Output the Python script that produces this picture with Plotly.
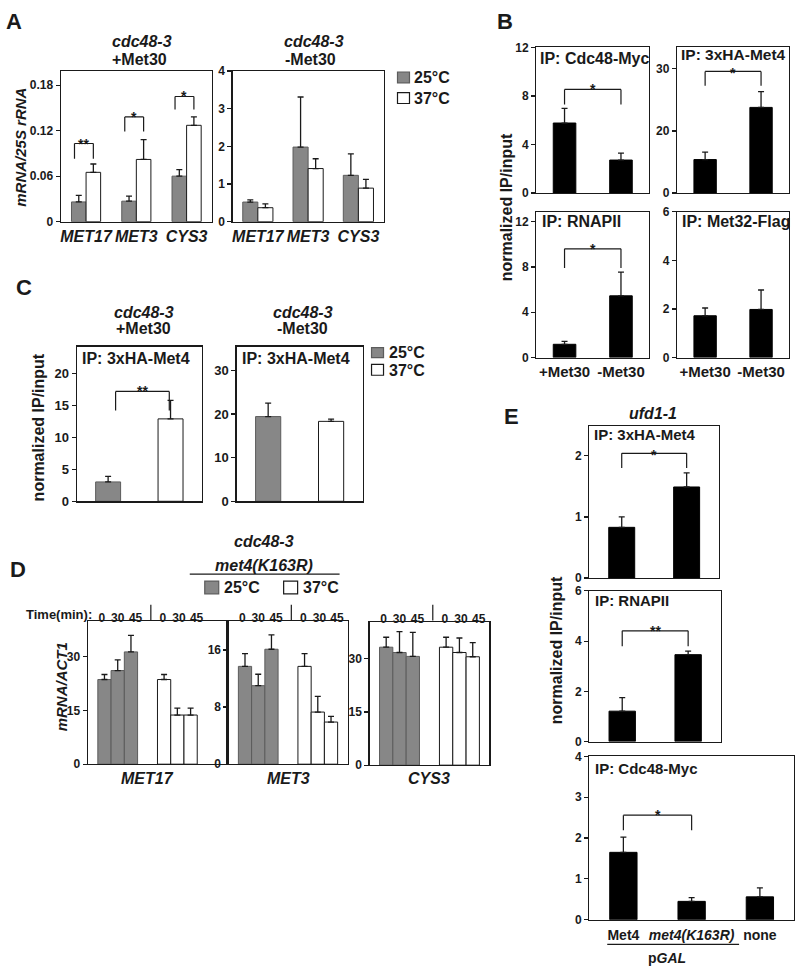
import plotly.graph_objects as go

W, H = 800, 976
FONT = "Liberation Sans, Arial, Helvetica, sans-serif"
GRAY = "#878787"
GRAY_EDGE = "#5c5c5c"
INK = "#1a1a1a"

# ---------------- data ----------------
# Panel A
A_genes = ["MET17", "MET3", "CYS3"]
A_plus_25 = [0.026, 0.027, 0.060]
A_plus_25_err = [0.0086, 0.0067, 0.0086]
A_plus_37 = [0.065, 0.082, 0.127]
A_plus_37_err = [0.011, 0.026, 0.011]
A_plus_yticks = [0, 0.06, 0.12, 0.18]
A_plus_sig = ["**", "*", "*"]
A_plus_sig_top = [0.103, 0.138, 0.165]
A_plus_sig_leg = [0.083, 0.119, 0.148]
A_minus_25 = [0.52, 1.98, 1.23]
A_minus_25_err = [0.06, 1.33, 0.57]
A_minus_37 = [0.37, 1.41, 0.89]
A_minus_37_err = [0.10, 0.26, 0.23]
A_minus_yticks = [0, 1, 2, 3, 4]
temps = ["25°C", "37°C"]

# Panel B
B_groups = ["+Met30", "-Met30"]
B_cdc48 = [5.77, 2.72]
B_cdc48_err = [1.21, 0.57]
B_cdc48_yticks = [0, 4, 8, 12]
B_met4 = [8.1, 20.7]
B_met4_err = [1.8, 3.8]
B_met4_tickvals = [0, 15, 30]
B_met4_ticktext = ["0", "20", "30"]
B_rnapii = [1.17, 5.45]
B_rnapii_err = [0.26, 2.1]
B_rnapii_yticks = [0, 4, 8, 12]
B_met32 = [1.72, 1.98]
B_met32_err = [0.32, 0.80]
B_met32_yticks = [0, 2, 4, 6]
B_sig_cdc48 = ("*", 8.54, 7.30)
B_sig_met4 = ("*", 29.4, 25.9)
B_sig_rnapii = ("*", 9.6, 7.9)

# Panel C
C_plus = [3.03, 12.9]
C_plus_err = [0.87, 2.9]
C_plus_yticks = [0, 5, 10, 15, 20]
C_minus = [19.4, 18.3]
C_minus_err = [3.1, 0.5]
C_minus_yticks = [0, 10, 20, 30]
C_sig_plus = ("**", 17.2, 14.2)

# Panel D
D_times = ["0", "30", "45"]
D_genes = ["MET17", "MET3", "CYS3"]
D_25 = [[23.6, 26.1, 31.3], [13.7, 11.0, 16.1], [33.3, 31.8, 30.7]]
D_25_err = [[1.4, 3.0, 4.6], [1.8, 1.6, 2.0], [2.8, 5.9, 6.8]]
D_37 = [[23.6, 13.7, 13.7], [13.7, 7.3, 5.9], [33.3, 31.8, 30.6]]
D_37_err = [[1.4, 1.9, 1.9], [1.8, 2.2, 0.8], [2.8, 4.1, 4.0]]
D_yticks = [[0, 15, 30], [0, 8, 16], [0, 15, 30]]
D_ymax = [39.8, 20.0, 40.3]

# Panel E
E_groups = ["Met4", "met4(K163R)", "none"]
E_met4 = [0.83, 1.49]
E_met4_err = [0.17, 0.23]
E_met4_yticks = [0, 1, 2]
E_rnapii = [1.21, 3.46]
E_rnapii_err = [0.54, 0.14]
E_rnapii_yticks = [0, 2, 4, 6]
E_cdc48 = [1.65, 0.45, 0.56]
E_cdc48_err = [0.37, 0.09, 0.22]
E_cdc48_yticks = [0, 1, 2, 3, 4]
E_sig_met4 = ("*", 2.04, 1.80)
E_sig_rnapii = ("**", 4.41, 3.80)
E_sig_cdc48 = ("*", 2.56, 2.19)

# ---------------- figure helpers ----------------
layout = dict(
    width=W, height=H, margin=dict(l=0, r=0, t=0, b=0),
    paper_bgcolor="white", plot_bgcolor="white", showlegend=False,
    font=dict(family=FONT, color=INK), barmode="overlay",
)
traces, shapes, annos = [], [], []


def names(n):
    s = "" if n == 1 else str(n)
    return "xaxis" + s, "yaxis" + s, "x" + s, "y" + s


def add_axes(n, box, xr, yr, yt, ytt=None, xt=None, xtt=None, xfont=None,
             xside="bottom", yfont=12, xstand=0):
    l, r, t, b = box
    xa, ya, xref, yref = names(n)
    xd = dict(domain=[l / W, r / W], range=xr, anchor=yref, showline=True,
              mirror=True, linecolor=INK, linewidth=1.3, showgrid=False,
              zeroline=False, ticks="", side=xside, fixedrange=True,
              tickangle=0)
    if xt is not None:
        xd.update(tickmode="array", tickvals=xt, ticktext=xtt,
                  tickfont=xfont, ticklabelstandoff=xstand)
    else:
        xd.update(showticklabels=False)
    yd = dict(domain=[1 - b / H, 1 - t / H], range=yr, anchor=xref,
              showline=True, mirror=True, linecolor=INK, linewidth=1.3,
              showgrid=False, zeroline=False, ticks="outside", ticklen=4,
              tickwidth=1.2, tickcolor=INK, tickmode="array", tickvals=yt,
              tickfont=dict(size=yfont, family=FONT, color=INK, weight="bold"),
              fixedrange=True)
    if ytt is not None:
        yd["ticktext"] = ytt
    layout[xa] = xd
    layout[ya] = yd
    return xref, yref


def add_bars(xref, yref, x, y, err, color, edge, width, offset, name):
    traces.append(go.Bar(
        x=x, y=y, name=name, xaxis=xref, yaxis=yref, width=width, offset=offset,
        marker=dict(color=color, line=dict(color=edge, width=1)),
        error_y=dict(type="data", array=err, arrayminus=[0] * len(err),
                     symmetric=False, color=INK, thickness=1.3, width=3),
        hoverinfo="skip",
    ))


def add_bracket(xref, yref, x0, x1, sig, size=14, lift=10):
    text, ytop, yleg = sig
    for xa, xb, ya, yb in [(x0, x0, yleg, ytop), (x0, x1, ytop, ytop), (x1, x1, ytop, yleg)]:
        shapes.append(dict(type="line", xref=xref, yref=yref, x0=xa, x1=xb,
                           y0=ya, y1=yb, line=dict(color=INK, width=1.2)))
    annos.append(dict(xref=xref, yref=yref, x=(x0 + x1) / 2, y=ytop,
                      text="<b>" + text + "</b>", showarrow=False,
                      yanchor="top", yshift=lift,
                      font=dict(size=size, family=FONT, color=INK)))


def text_px(x, y, s, size=16, xanchor="center", yanchor="middle", angle=0):
    annos.append(dict(xref="paper", yref="paper", x=x / W, y=1 - y / H, text=s,
                      showarrow=False, xanchor=xanchor, yanchor=yanchor,
                      textangle=angle,
                      font=dict(size=size, family=FONT, color=INK)))


def rect_px(x0, y0, x1, y1, fill, edge):
    shapes.append(dict(type="rect", xref="paper", yref="paper",
                       x0=x0 / W, x1=x1 / W, y0=1 - y1 / H, y1=1 - y0 / H,
                       fillcolor=fill, line=dict(color=edge, width=1.2)))


def line_px(x0, y0, x1, y1, w=1.2):
    shapes.append(dict(type="line", xref="paper", yref="paper",
                       x0=x0 / W, x1=x1 / W, y0=1 - y0 / H, y1=1 - y1 / H,
                       line=dict(color=INK, width=w)))


def b(s):
    return "<b>" + s + "</b>"


def bi(s):
    return "<b><i>" + s + "</i></b>"


# ---------------- Panel A ----------------
genefont = dict(size=16, family=FONT, color=INK, weight="bold", style="italic")
idx3 = list(range(len(A_genes)))
xr3 = [-0.5, len(A_genes) - 0.5]
xa, ya = add_axes(1, (60, 211, 65, 218), xr3, [0, 0.1986], A_plus_yticks,
                  xt=idx3, xtt=A_genes, xfont=genefont)
add_bars(xa, ya, idx3, A_plus_25, A_plus_25_err, GRAY, GRAY_EDGE, 0.29, -0.29, temps[0])
add_bars(xa, ya, idx3, A_plus_37, A_plus_37_err, "white", INK, 0.29, 0.0, temps[1])
for i, s in enumerate(A_plus_sig):
    add_bracket(xa, ya, i - 0.23, i + 0.145, (s, A_plus_sig_top[i], A_plus_sig_leg[i]))

xa, ya = add_axes(2, (232, 383, 65, 218), xr3, [0, 4], A_minus_yticks,
                  xt=idx3, xtt=A_genes, xfont=genefont)
add_bars(xa, ya, idx3, A_minus_25, A_minus_25_err, GRAY, GRAY_EDGE, 0.3, -0.3, temps[0])
add_bars(xa, ya, idx3, A_minus_37, A_minus_37_err, "white", INK, 0.3, 0.0, temps[1])

text_px(13, 15, b("A"), size=22)
text_px(141, 35, bi("cdc48-3"))
text_px(139, 53, b("+Met30"))
text_px(313, 35, bi("cdc48-3"))
text_px(310, 53, b("-Met30"))
text_px(20, 142, bi("mRNA/25S rRNA"), size=15, angle=-90)
rect_px(397, 66, 409, 77, GRAY, GRAY_EDGE)
rect_px(397, 87, 409, 98, "white", INK)
text_px(412, 72, b(temps[0]), xanchor="left")
text_px(412, 93, b(temps[1]), xanchor="left")

# ---------------- Panel B ----------------
idx2 = list(range(len(B_groups)))
xr2 = [-0.5, 1.5]
bfont = dict(size=15, family=FONT, color=INK, weight="bold")
xa, ya = add_axes(3, (536, 649, 41, 189), xr2, [0, 12], B_cdc48_yticks)
add_bars(xa, ya, idx2, B_cdc48, B_cdc48_err, "black", "black", 0.4, -0.2, "Cdc48-Myc")
add_bracket(xa, ya, 0, 1, B_sig_cdc48)
xa, ya = add_axes(4, (677, 789, 41, 189), xr2, [0, 35.2], B_met4_tickvals, ytt=B_met4_ticktext)
add_bars(xa, ya, idx2, B_met4, B_met4_err, "black", "black", 0.4, -0.2, "3xHA-Met4")
add_bracket(xa, ya, 0, 1, B_sig_met4, lift=8)
xa, ya = add_axes(5, (536, 649, 208, 356), xr2, [0, 12.87], B_rnapii_yticks,
                  xt=idx2, xtt=B_groups, xfont=bfont)
add_bars(xa, ya, idx2, B_rnapii, B_rnapii_err, "black", "black", 0.4, -0.2, "RNAPII")
add_bracket(xa, ya, 0, 1, B_sig_rnapii)
xa, ya = add_axes(6, (677, 789, 208, 356), xr2, [0, 6], B_met32_yticks,
                  xt=idx2, xtt=B_groups, xfont=bfont)
add_bars(xa, ya, idx2, B_met32, B_met32_err, "black", "black", 0.4, -0.2, "Met32-Flag")

text_px(505, 15, b("B"), size=22)
text_px(538, 52, b("IP: Cdc48-Myc"), xanchor="left")
text_px(679, 48, b("IP: 3xHA-Met4"), size=15.5, xanchor="left")
text_px(540, 218, b("IP: RNAPII"), xanchor="left")
text_px(680, 218, b("IP: Met32-Flag"), xanchor="left")
text_px(507, 203, b("normalized IP/input"), angle=-90)

# ---------------- Panel C ----------------
xa, ya = add_axes(7, (76, 201, 345, 502), xr2, [0, 24.2], C_plus_yticks, yfont=13)
add_bars(xa, ya, [0], C_plus[:1], C_plus_err[:1], GRAY, GRAY_EDGE, 0.4, -0.2, temps[0])
add_bars(xa, ya, [1], C_plus[1:], C_plus_err[1:], "white", INK, 0.4, -0.2, temps[1])
add_bracket(xa, ya, 0.12, 0.98, C_sig_plus)
xa, ya = add_axes(8, (236, 362, 345, 502), xr2, [0, 35.4], C_minus_yticks, yfont=13)
add_bars(xa, ya, [0], C_minus[:1], C_minus_err[:1], GRAY, GRAY_EDGE, 0.4, -0.2, temps[0])
add_bars(xa, ya, [1], C_minus[1:], C_minus_err[1:], "white", INK, 0.4, -0.2, temps[1])

text_px(23, 285, b("C"), size=22)
text_px(143, 310, bi("cdc48-3"))
text_px(143, 327, b("+Met30"))
text_px(302, 310, bi("cdc48-3"))
text_px(302, 327, b("-Met30"))
text_px(79, 357, b("IP: 3xHA-Met4"), xanchor="left")
text_px(239, 357, b("IP: 3xHA-Met4"), xanchor="left")
text_px(37, 427, b("normalized IP/input"), angle=-90)
rect_px(371, 346, 383, 356, GRAY, GRAY_EDGE)
rect_px(371, 363, 383, 374, "white", INK)
text_px(386, 351, b(temps[0]), xanchor="left")
text_px(386, 369, b(temps[1]), xanchor="left")

# ---------------- Panel D ----------------
D_shift = 4.5
xg = [float(i) for i in range(len(D_times))]
xw = [i + D_shift for i in xg]
# time labels sit slightly spread over their bars, as in the original
tick_g = [x + d for x, d in zip(xg, (-0.2, 0.0, 0.35))]
tick_w = [x + d for x, d in zip(xw, (-0.1, 0.12, 0.45))]
tfont = dict(size=12, family=FONT, color=INK, weight="bold")
D_boxes = [(87, 225, 624, 769), (228, 347, 624, 769), (369, 489, 625, 770)]
D_xr = [[-1.25, 9.15], [-1.23, 7.75], [-1.25, 7.75]]
for k in range(3):
    xa, ya = add_axes(9 + k, D_boxes[k], D_xr[k], [0, D_ymax[k]], D_yticks[k],
                      xt=tick_g + tick_w, xtt=D_times + D_times, xfont=tfont,
                      xside="top", xstand=-7)
    add_bars(xa, ya, xg, D_25[k], D_25_err[k], GRAY, GRAY_EDGE, 1.0, -0.5, temps[0])
    add_bars(xa, ya, xw, D_37[k], D_37_err[k], "white", INK, 1.0, -0.5, temps[1])
    shapes.append(dict(type="line", xref=xa, yref="paper", x0=3.5, x1=3.5,
                       y0=1 - 623 / H, y1=1 - 607 / H, line=dict(color=INK, width=1.2)))
    annos.append(dict(xref=xa, yref="paper", x=3.25, y=1 - 784 / H,
                      text=bi(D_genes[k]), showarrow=False, yanchor="middle",
                      font=dict(size=16, family=FONT, color=INK)))

text_px(17, 571, b("D"), size=22)
text_px(263, 543, bi("cdc48-3"))
text_px(263, 567, bi("met4(K163R)"))
line_px(189, 576, 339, 576)
rect_px(204, 583, 218, 596, GRAY, GRAY_EDGE)
text_px(221, 590, b(temps[0]), xanchor="left")
rect_px(283, 583, 297, 596, "white", INK)
text_px(300, 590, b(temps[1]), xanchor="left")
text_px(23, 617, b("Time(min):"), size=13, xanchor="left")
text_px(60, 690, bi("mRNA/ACT1"), size=15, angle=-90)

# ---------------- Panel E ----------------
efont = dict(size=14, family=FONT, color=INK, weight="bold")
xa, ya = add_axes(12, (589, 719, 426, 580), xr2, [0, 2.48], E_met4_yticks)
add_bars(xa, ya, idx2, E_met4, E_met4_err, "black", "black", 0.4, -0.2, "3xHA-Met4")
add_bracket(xa, ya, 0, 1, E_sig_met4, lift=8)
xa, ya = add_axes(13, (589, 721, 593, 746), xr2, [0, 6], E_rnapii_yticks)
add_bars(xa, ya, idx2, E_rnapii, E_rnapii_err, "black", "black", 0.4, -0.2, "RNAPII")
add_bracket(xa, ya, 0, 1, E_sig_rnapii)
E_ticktext = [E_groups[0], "<i>" + E_groups[1] + "</i>", E_groups[2]]
xa, ya = add_axes(14, (589, 794, 761, 927), xr3, [0, 4], E_cdc48_yticks,
                  xt=idx3, xtt=E_ticktext, xfont=efont, xstand=2)
add_bars(xa, ya, idx3, E_cdc48, E_cdc48_err, "black", "black", 0.4, -0.2, "Cdc48-Myc")
add_bracket(xa, ya, 0, 1, E_sig_cdc48)

text_px(511, 416, b("E"), size=22)
text_px(653, 413, bi("ufd1-1"))
text_px(592, 434, b("IP: 3xHA-Met4"), size=15, xanchor="left")
text_px(593, 603, b("IP: RNAPII"), size=15, xanchor="left")
text_px(593, 773, b("IP: Cdc48-Myc"), size=15, xanchor="left")
text_px(557, 653, b("normalized IP/input"), angle=-90)
line_px(607, 952, 739, 952)
text_px(667, 966, b("p<i>GAL</i>"), size=14)

layout["shapes"] = shapes
layout["annotations"] = annos
fig = go.Figure(data=traces, layout=layout)
fig.write_html(
    "out.html",
    config={"displayModeBar": False, "staticPlot": True},
    post_script="document.body.style.margin='0';document.body.style.overflow='hidden';",
)
